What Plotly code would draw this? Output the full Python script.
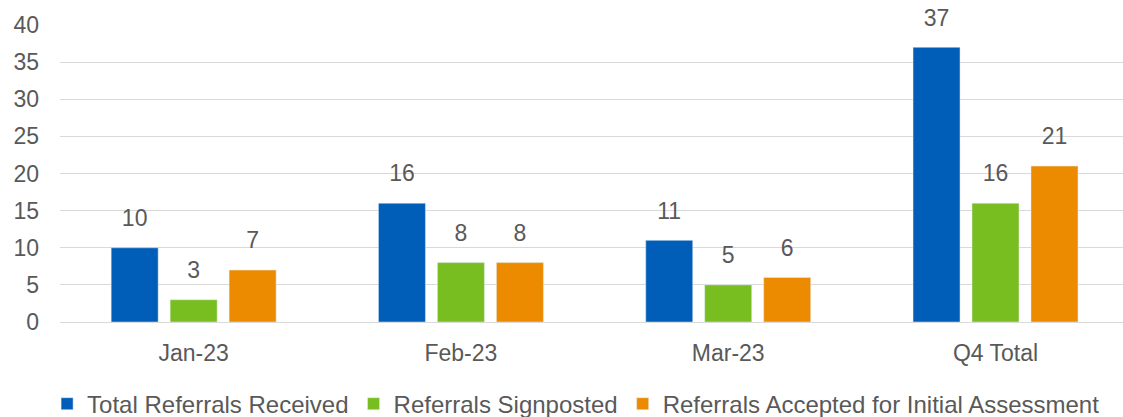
import plotly.graph_objects as go

categories = ["Jan-23", "Feb-23", "Mar-23", "Q4 Total"]
received = [10, 16, 11, 37]
signposted = [3, 8, 5, 16]
accepted = [7, 8, 6, 21]

series = [
    ("Total Referrals Received", received, "#005EB8"),
    ("Referrals Signposted", signposted, "#78BE20"),
    ("Referrals Accepted for Initial Assessment", accepted, "#ED8B00"),
]

FONT = "Liberation Sans, Arial"
GRAY = "#595959"
BARGAP = 0.338

fig = go.Figure()
for i, (name, vals, color) in enumerate(series):
    fig.add_trace(go.Bar(
        x=categories, y=vals, name=name, marker_color=color,
        offsetgroup=str(i), hoverinfo="skip",
    ))
for i, (name, vals, color) in enumerate(series):
    fig.add_trace(go.Scatter(
        x=categories, y=vals, mode="markers+text", text=[str(v) for v in vals],
        textposition="top center", offsetgroup=str(i),
        marker=dict(size=24, opacity=0, color=color),
        textfont=dict(size=23, color=GRAY, family=FONT),
        showlegend=False, cliponaxis=False, hoverinfo="skip",
    ))

fig.update_layout(
    width=1123, height=417,
    margin=dict(l=60, r=0, t=25, b=95),
    barmode="group", bargap=BARGAP, bargroupgap=0.203,
    scattermode="group", scattergap=BARGAP,
    plot_bgcolor="white", paper_bgcolor="white",
    font=dict(family=FONT, size=23, color=GRAY),
    legend=dict(orientation="h", x=0.513, xanchor="center", xref="container",
                y=0.031, yanchor="middle", yref="container",
                font=dict(size=24, color=GRAY), itemwidth=30, traceorder="normal"),
    showlegend=True,
)
fig.update_yaxes(range=[0, 40], dtick=5, showgrid=True, gridcolor="#D9D9D9", gridwidth=1.3,
                 zeroline=False, ticklabelstandoff=20, tickfont=dict(size=23), automargin=False)
fig.update_xaxes(range=[-0.5, 3.477], showline=True, linecolor="#D9D9D9", linewidth=1.3,
                 tickfont=dict(size=23), ticklabelstandoff=10, automargin=False)

fig.write_html("out.html", config={"displayModeBar": False},
               post_script="document.body.style.margin='0';document.body.style.overflow='hidden';")
